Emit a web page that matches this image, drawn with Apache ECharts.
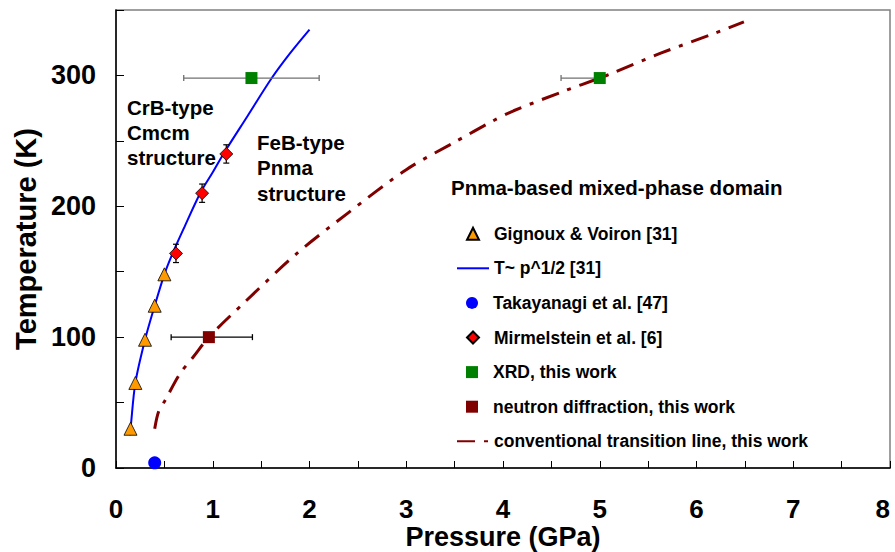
<!DOCTYPE html>
<html>
<head>
<meta charset="utf-8">
<script src="https://cdn.jsdelivr.net/npm/echarts@6/dist/echarts.min.js"></script>
<style>
html,body{margin:0;padding:0;background:#fff;}
#chart{width:895px;height:552px;}
</style>
</head>
<body>
<div id="chart"></div>
<script>
// ---- data ----
const gignouxP = [0.15, 0.20, 0.30, 0.40, 0.50];
const gignouxT = [30, 65, 98, 124, 148];

const fitP = [0.14, 0.15, 0.20, 0.30, 0.40, 0.50, 0.585, 0.70, 0.87, 1.00, 1.11, 1.36, 1.61, 1.80, 2.00];
const fitT = [25, 30, 65, 98, 124, 148, 164, 183, 210, 226, 240, 269, 298, 317, 335];

const takayanagiP = [0.40];
const takayanagiT = [4];

const mirmelsteinP = [0.62, 0.89, 1.14];
const mirmelsteinT = [164, 210, 240];
const mirmelsteinErr = [7, 7, 7];

const xrdP = [1.40, 5.00];
const xrdT = [298, 298];
const xrdPmin = [0.70, 4.60];
const xrdPmax = [2.10, 5.00];

const neutronP = [0.96];
const neutronT = [100];
const neutronPmin = [0.57];
const neutronPmax = [1.41];

const transP = [0.40, 0.44, 0.51, 0.66, 0.80, 0.96, 1.32, 1.87, 2.40, 3.00, 3.50, 3.89, 4.11, 4.63, 5.00, 5.14, 5.63, 6.18, 6.49];
const transT = [30, 43, 52, 72, 85, 100, 126, 164, 195, 228, 249, 265, 273, 288, 298, 302, 317, 332, 341];

const xTickLabels = ['0','1','2','3','4','5','6','7','8'];
const yTickLabels = ['0','100','200','300'];

const names = {
  gig: 'Gignoux & Voiron [31]',
  fit: 'T~ p^1/2 [31]',
  tak: 'Takayanagi et al. [47]',
  mir: 'Mirmelstein et al. [6]',
  xrd: 'XRD, this work',
  neu: 'neutron diffraction, this work',
  tra: 'conventional transition line, this work'
};
const legendOrder = ['gig', 'fit', 'tak', 'mir', 'xrd', 'neu', 'tra'];
const legendIsLine = {fit: true, tra: true};

// ---- build ----
const FF = '"Liberation Sans", Arial, Helvetica, sans-serif';
const zip = (a, b) => a.map((v, i) => [v, b[i]]);

function xErrSeries(P, T, lo, hi, color) {
  return {
    type: 'custom', z: 3, silent: true,
    data: P.map((p, i) => [p, T[i], lo[i], hi[i]]),
    renderItem: function (params, api) {
      const a = api.coord([api.value(2), api.value(1)]);
      const b = api.coord([api.value(3), api.value(1)]);
      const st = {stroke: color, lineWidth: 1.3, fill: null};
      return {type: 'group', children: [
        {type: 'line', shape: {x1: a[0], y1: a[1], x2: b[0], y2: b[1]}, style: st},
        {type: 'line', shape: {x1: a[0], y1: a[1] - 3, x2: a[0], y2: a[1] + 3}, style: st},
        {type: 'line', shape: {x1: b[0], y1: b[1] - 3, x2: b[0], y2: b[1] + 3}, style: st}
      ]};
    }
  };
}
function yErrSeries(P, T, err, color) {
  return {
    type: 'custom', z: 3, silent: true,
    data: P.map((p, i) => [p, T[i], err[i]]),
    renderItem: function (params, api) {
      const a = api.coord([api.value(0), api.value(1) - api.value(2)]);
      const b = api.coord([api.value(0), api.value(1) + api.value(2)]);
      const st = {stroke: color, lineWidth: 1.2, fill: null};
      return {type: 'group', children: [
        {type: 'line', shape: {x1: a[0], y1: a[1], x2: b[0], y2: b[1]}, style: st},
        {type: 'line', shape: {x1: a[0] - 3, y1: a[1], x2: a[0] + 3, y2: a[1]}, style: st},
        {type: 'line', shape: {x1: b[0] - 3, y1: b[1], x2: b[0] + 3, y2: b[1]}, style: st}
      ]};
    }
  };
}

const chart = echarts.init(document.getElementById('chart'), null, {renderer: 'svg'});
const boldText = (size) => ({fontFamily: FF, fontWeight: 'bold', fontSize: size, color: '#000'});

// one legend component per row so each row can have its own icon box
const legendRow0 = 231.7, legendStep = 34.6;
const legends = legendOrder.map((k, i) => {
  const isLine = !!legendIsLine[k];
  const cy = legendRow0 + i * legendStep;
  const item = {name: names[k]};
  if (isLine) item.itemStyle = {opacity: 0, color: 'rgba(0,0,0,0)', borderWidth: 0};
  return {
    orient: 'vertical',
    padding: 0,
    left: isLine ? 456 : 466,
    top: cy - 7,
    itemWidth: isLine ? 32 : 12,
    itemHeight: isLine ? 14 : 12,
    selectedMode: false,
    textStyle: Object.assign(boldText(17.5), {lineHeight: 14, padding: [0, 0, 0, isLine ? 0 : 10]}),
    data: [item]
  };
});

const labelFont = 'bold 20.5px ' + FF;
const txt = (x, y, s) => ({type: 'text', x: x, y: y, style: {text: s, verticalAlign: 'middle', fill: '#000', font: labelFont}});

const option = {
  animation: false,
  backgroundColor: '#fff',
  grid: {left: 116, right: 5, top: 10, bottom: 84, show: true, borderColor: '#808080', borderWidth: 1.5,
         containLabel: false, outerBoundsMode: 'none'},
  xAxis: {
    type: 'value', min: 0, max: 8, interval: 0.5,
    axisLine: {lineStyle: {color: '#000', width: 1.5}},
    axisTick: {inside: true, length: 7, lineStyle: {color: '#000', width: 1}},
    splitLine: {show: false},
    axisLabel: Object.assign(boldText(26), {
      margin: 30,
      lineHeight: 22,
      alignMaxLabel: 'right',
      formatter: v => (Number.isInteger(v) ? xTickLabels[v] : '')
    }),
    name: 'Pressure (GPa)', nameLocation: 'middle', nameGap: 56, nameMoveOverlap: false,
    nameTextStyle: Object.assign(boldText(27), {lineHeight: 26})
  },
  yAxis: {
    type: 'value', min: 0, max: 350, interval: 50,
    axisLine: {lineStyle: {color: '#000', width: 1.5}},
    axisTick: {inside: true, length: 8, lineStyle: {color: '#000', width: 1}},
    splitLine: {show: false},
    axisLabel: Object.assign(boldText(27), {
      margin: 20,
      formatter: v => (v % 100 === 0 && v / 100 < yTickLabels.length ? yTickLabels[v / 100] : '')
    }),
    name: 'Temperature (K)', nameLocation: 'middle', nameGap: 76, nameMoveOverlap: false,
    nameTextStyle: boldText(29)
  },
  legend: legends,
  graphic: [
    txt(451, 187, 'Pnma-based mixed-phase domain'),
    txt(127, 107, 'CrB-type'),
    txt(127, 132, 'Cmcm'),
    txt(127, 157, 'structure'),
    txt(257, 142, 'FeB-type'),
    txt(257, 167, 'Pnma'),
    txt(257, 193, 'structure')
  ],
  series: [
    {
      name: names.fit, type: 'line', data: zip(fitP, fitT), symbol: 'none', smooth: 0.3, z: 2,
      lineStyle: {color: '#0000FF', width: 2}, itemStyle: {color: '#0000FF'}
    },
    {
      name: names.tra, type: 'line', data: zip(transP, transT), symbol: 'none', smooth: 0.3, z: 2,
      lineStyle: {color: '#800000', width: 3, type: [18, 9, 4, 9]}, itemStyle: {color: '#800000'}
    },
    xErrSeries(xrdP, xrdT, xrdPmin, xrdPmax, '#707070'),
    xErrSeries(neutronP, neutronT, neutronPmin, neutronPmax, '#000'),
    yErrSeries(mirmelsteinP, mirmelsteinT, mirmelsteinErr, '#000'),
    {
      name: names.gig, type: 'scatter', data: zip(gignouxP, gignouxT), symbol: 'triangle', symbolSize: 13, z: 5,
      itemStyle: {color: '#FF9900', borderColor: '#000', borderWidth: 0.8, opacity: 1}
    },
    {
      name: names.tak, type: 'scatter', data: zip(takayanagiP, takayanagiT), symbol: 'circle', symbolSize: 13, z: 5,
      itemStyle: {color: '#0000FF', opacity: 1}
    },
    {
      name: names.mir, type: 'scatter', data: zip(mirmelsteinP, mirmelsteinT), symbol: 'diamond', symbolSize: 13, z: 5,
      itemStyle: {color: '#FF0000', borderColor: '#000', borderWidth: 0.8, opacity: 1}
    },
    {
      name: names.xrd, type: 'scatter', data: zip(xrdP, xrdT), symbol: 'rect', symbolSize: 12, z: 5,
      itemStyle: {color: '#008000', opacity: 1}
    },
    {
      name: names.neu, type: 'scatter', data: zip(neutronP, neutronT), symbol: 'rect', symbolSize: 12, z: 5,
      itemStyle: {color: '#800000', opacity: 1}
    }
  ]
};
chart.setOption(option);
</script>
</body>
</html>
